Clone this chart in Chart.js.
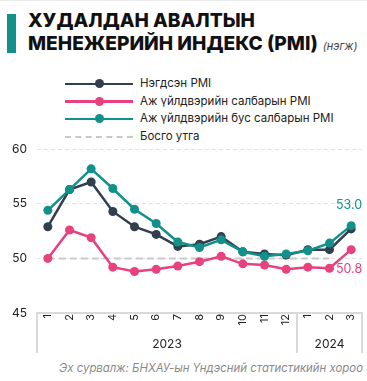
<!DOCTYPE html>
<html>
<head>
<meta charset="utf-8">
<script src="https://cdn.jsdelivr.net/npm/chart.js@4"></script>
<style>
  body { margin: 0; background: #fff; font-family: Inter, "Noto Sans", sans-serif; }
  #wrap { position: relative; width: 367px; height: 381px; overflow: hidden; border-top: 1px solid #ececec; box-sizing: border-box; }
  .bar { position: absolute; left: 7px; top: 13px; width: 9px; height: 39px; background: #12918b; }
  .title { position: absolute; left: 28px; top: 8px; font-weight: 800; font-size: 19.2px; line-height: 23px; color: #111; white-space: nowrap; }
  .title i { font-weight: 400; font-size: 11px; color: #444; margin-left: 5px; }
  .legend { position: absolute; left: 65px; top: 74px; font-size: 11.5px; color: #222; }
  .row { position: relative; height: 17.6px; line-height: 17.6px; padding-left: 75px; }
  .row .ln { position: absolute; left: 0; top: 7.5px; width: 68px; height: 2.5px; }
  .row .dot { position: absolute; left: 29.5px; top: 4.2px; width: 9px; height: 9px; border-radius: 50%; }
  .row .dash { position: absolute; left: 0; top: 8px; width: 68px; height: 0; border-top: 2px dashed #c9c9c9; }
  #chartBox { position: absolute; left: 0; top: 131px; width: 367px; height: 227px; }
  .source { position: absolute; right: 4px; top: 360px; font-size: 11.4px; font-style: italic; color: #8a8a8a; white-space: nowrap; }
</style>
</head>
<body>
<div id="wrap">
  <div class="bar"></div>
  <div class="title">ХУДАЛДАН АВАЛТЫН<br>МЕНЕЖЕРИЙН ИНДЕКС (PMI)<i>(нэгж)</i></div>
  <div class="legend" id="legend"></div>
  <div id="chartBox"><canvas id="pmiChart" width="367" height="227"></canvas></div>
  <div class="source">Эх сурвалж: БНХАУ-ын Үндэсний статистикийн хороо</div>
</div>
<script>
// months 2023-01 .. 2024-03
const months = ['1', '2', '3', '4', '5', '6', '7', '8', '9', '10', '11', '12', '1', '2', '3'];
const years = ['2023', '2024'];
const yearSpans = [12, 3];

const pmiTotal = [52.9, 56.3, 57.0, 54.3, 52.9, 52.2, 51.1, 51.3, 52.0, 50.6, 50.4, 50.3, 50.8, 50.8, 52.7];
const pmiManufacturing = [50.0, 52.6, 51.9, 49.2, 48.8, 49.0, 49.3, 49.7, 50.2, 49.5, 49.4, 49.0, 49.2, 49.1, 50.8];
const pmiNonManufacturing = [54.4, 56.3, 58.2, 56.4, 54.5, 53.2, 51.5, 51.0, 51.7, 50.6, 50.2, 50.4, 50.7, 51.4, 53.0];
const threshold = [50, 50, 50, 50, 50, 50, 50, 50, 50, 50, 50, 50, 50, 50, null];

const seriesNames = ['Нэгдсэн PMI', 'Аж үйлдвэрийн салбарын PMI', 'Аж үйлдвэрийн бус салбарын PMI', 'Босго утга'];
const colors = ['#323f4f', '#e9407f', '#12918b', '#c9c9c9'];

// legend built as html rows
const legendEl = document.getElementById('legend');
seriesNames.forEach((name, i) => {
  const row = document.createElement('div');
  row.className = 'row';
  if (i < 3) {
    row.innerHTML = `<span class="ln" style="background:${colors[i]}"></span><span class="dot" style="background:${colors[i]}"></span>${name}`;
  } else {
    row.innerHTML = `<span class="dash"></span>${name}`;
  }
  legendEl.appendChild(row);
});

// year boxes under the month ticks
const yearGroups = {
  id: 'yearGroups',
  afterDraw(chart) {
    const x = chart.scales.x;
    const ctx = chart.ctx;
    const edges = [x.left];
    let idx = 0;
    yearSpans.forEach((n, k) => {
      idx += n;
      if (k < yearSpans.length - 1) {
        edges.push((x.getPixelForValue(idx - 1) + x.getPixelForValue(idx)) / 2);
      }
    });
    edges.push(x.right);
    ctx.save();
    ctx.strokeStyle = '#d9d9d9';
    ctx.lineWidth = 2;
    edges.forEach(e => {
      ctx.beginPath();
      ctx.moveTo(e, x.top);
      ctx.lineTo(e, x.bottom);
      ctx.stroke();
    });
    ctx.fillStyle = '#222';
    ctx.font = '12px Inter, "Noto Sans", sans-serif';
    ctx.textAlign = 'center';
    ctx.textBaseline = 'middle';
    years.forEach((y, k) => {
      ctx.fillText(y, (edges[k] + edges[k + 1]) / 2, x.top + 31);
    });
    ctx.restore();
  }
};

// last value written next to the end point
const endLabels = {
  id: 'endLabels',
  afterDatasetsDraw(chart) {
    const ctx = chart.ctx;
    chart.data.datasets.forEach((ds, i) => {
      if (!ds.endLabelShift) return;
      const meta = chart.getDatasetMeta(i);
      const last = ds.data.length - 1;
      const pt = meta.data[last];
      ctx.save();
      ctx.fillStyle = ds.borderColor;
      ctx.font = '12.5px Inter, "Noto Sans", sans-serif';
      ctx.textAlign = 'right';
      ctx.textBaseline = 'middle';
      ctx.fillText(ds.data[last].toFixed(1), pt.x + 11, pt.y + ds.endLabelShift);
      ctx.restore();
    });
  }
};

const lineStyle = (label, data, color, order) => ({
  label: label,
  data: data,
  borderColor: color,
  backgroundColor: color,
  borderWidth: 2.5,
  pointRadius: 4.5,
  pointHoverRadius: 4.5,
  pointBorderWidth: 0,
  tension: 0,
  order: order
});

const ds0 = lineStyle(seriesNames[0], pmiTotal, colors[0], 2);
const ds1 = lineStyle(seriesNames[1], pmiManufacturing, colors[1], 3);
ds1.endLabelShift = 20;
const ds2 = lineStyle(seriesNames[2], pmiNonManufacturing, colors[2], 1);
ds2.endLabelShift = -20;
const ds3 = {
  label: seriesNames[3],
  data: threshold,
  borderColor: colors[3],
  borderWidth: 2,
  borderDash: [7, 4],
  pointRadius: 0,
  order: 4
};

const config = {
  type: 'line',
  data: { labels: months, datasets: [ds0, ds1, ds2, ds3] },
  options: {
    responsive: false,
    animation: false,
    layout: { padding: { top: 3, right: 5, bottom: 6, left: 0 } },
    plugins: { legend: { display: false }, tooltip: { enabled: false } },
    scales: {
      x: {
        offset: true,
        grid: { display: false, drawTicks: false },
        border: { display: true, color: '#d9d9d9', width: 2 },
        ticks: {
          autoSkip: false, minRotation: 90, maxRotation: 90, padding: 1,
          color: '#222', font: { family: 'Inter', size: 11 }
        },
        afterFit(scale) { scale.height = 40; }
      },
      y: {
        min: 45, max: 60,
        ticks: { stepSize: 5, padding: 10, color: '#222', font: { family: 'Inter', size: 12 } },
        grid: { color: '#e3e3e3', lineWidth: 1, drawTicks: false },
        border: { display: false, dash: [4, 3] },
        afterFit(scale) { scale.width = 37; }
      }
    }
  },
  plugins: [yearGroups, endLabels]
};

const pmiChart = new Chart(document.getElementById('pmiChart'), config);
</script>
</body>
</html>
